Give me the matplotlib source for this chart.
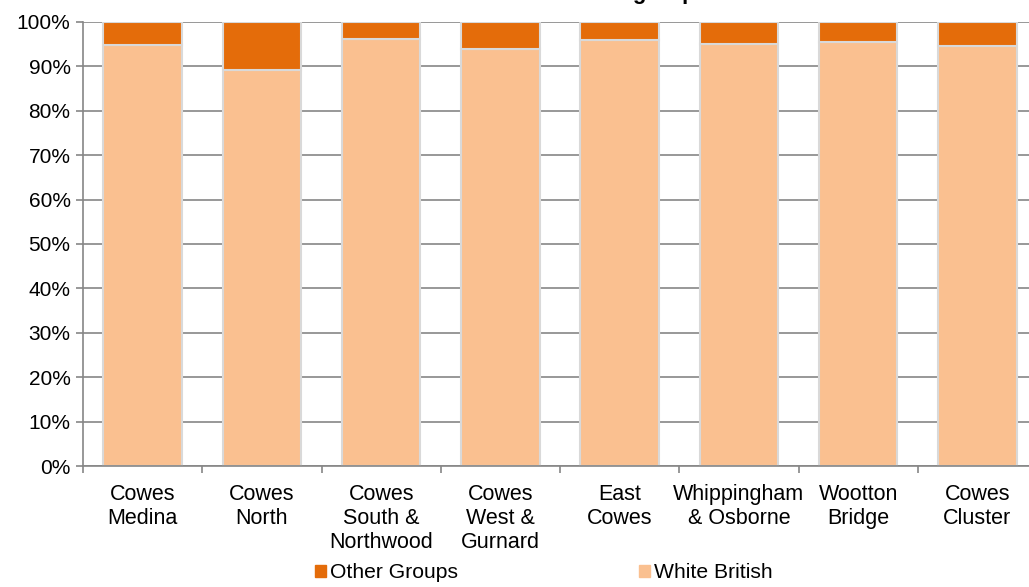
import matplotlib.pyplot as plt
import matplotlib.patches as mpatches
import numpy as np

plt.rcParams['font.family'] = ['Liberation Sans', 'DejaVu Sans']

areas = ["Cowes\nMedina", "Cowes\nNorth", "Cowes\nSouth &\nNorthwood", "Cowes\nWest &\nGurnard",
         "East\nCowes", "Whippingham\n& Osborne", "Wootton\nBridge", "Cowes\nCluster"]
white_british = [94.8, 89.3, 96.1, 94.0, 95.9, 95.0, 95.6, 94.6]
other_groups = [100 - v for v in white_british]

_c_other = "#E46C0A"
_c_white = "#FAC090"
_grey = "#868686"

fig = plt.figure(figsize=(10.29, 5.87), dpi=100)
ax = fig.add_axes([83 / 1029, 1 - 466 / 587, 954 / 1029, 444 / 587])

x = np.arange(len(areas))
ax.bar(x, white_british, width=0.66, color=_c_white, edgecolor="#D9D9D9", linewidth=1.5, zorder=2)
ax.bar(x, other_groups, bottom=white_british, width=0.66, color=_c_other,
       edgecolor="#D9D9D9", linewidth=1.5, zorder=2)

ax.set_xlim(-0.5, len(areas) - 0.5)
ax.set_ylim(0, 100)
ax.set_yticks(np.arange(0, 101, 10))
ax.set_yticklabels([f"{v}%" for v in range(0, 101, 10)], fontsize=15)
ax.grid(axis="y", color=_grey, linewidth=1.2, zorder=1)
ax.set_axisbelow(True)

# category boundaries as major ticks, labels on minor ticks
ax.set_xticks(np.arange(-0.5, len(areas), 1))
ax.set_xticklabels([])
ax.set_xticks(x, minor=True)
ax.set_xticklabels(areas, minor=True, fontsize=15.5, linespacing=1.2)
ax.tick_params(axis="x", which="minor", length=0, pad=13)
ax.tick_params(axis="x", which="major", length=5, color=_grey, width=1.2)
ax.tick_params(axis="y", length=5, color=_grey, width=1.2, pad=4)

for side in ["top", "right"]:
    ax.spines[side].set_visible(False)
for side in ["left", "bottom"]:
    ax.spines[side].set_color(_grey)
    ax.spines[side].set_linewidth(1.2)

# title sits mostly above the visible area
fig.text(708 / 1029, 1 + 1 / 587, "Ethnic groups", ha="right", va="baseline",
         fontsize=16, fontweight="bold")

_patches = [mpatches.Patch(color=_c_other, label="Other Groups"),
            mpatches.Patch(color=_c_white, label="White British")]
fig.legend(handles=_patches, loc="lower center", bbox_to_anchor=(544 / 1029, -0.024), ncol=2,
           frameon=False, fontsize=15.2, handlelength=0.5, handleheight=0.5,
           handletextpad=0.2, columnspacing=8.6)

fig.savefig("out.png", dpi=100)
